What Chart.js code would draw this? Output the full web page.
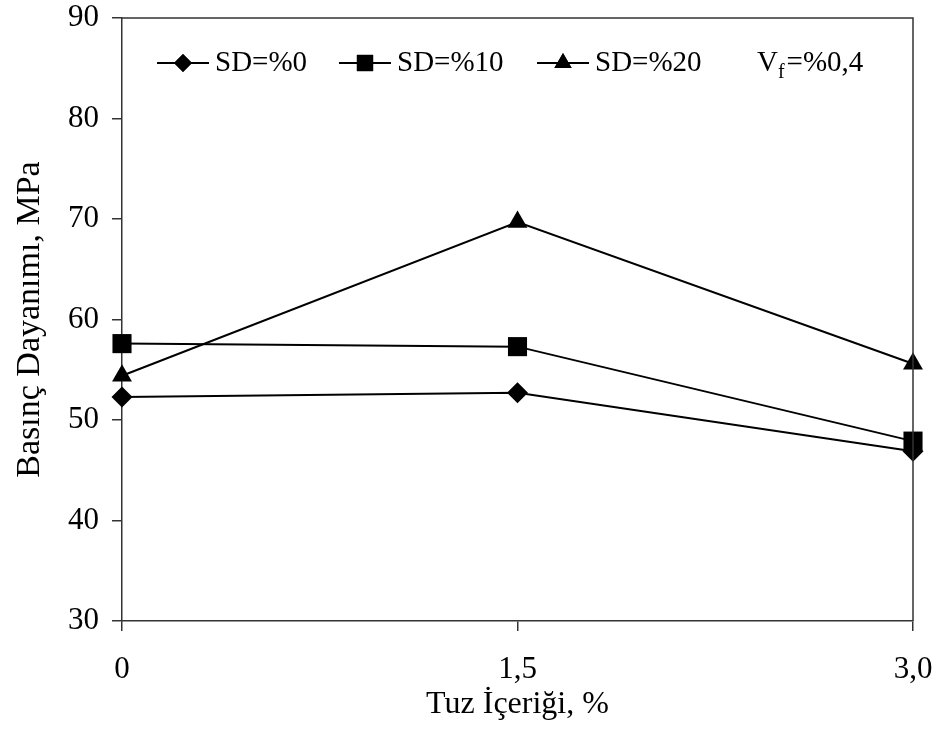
<!DOCTYPE html>
<html>
<head>
<meta charset="utf-8">
<script src="https://cdn.jsdelivr.net/npm/chart.js@4.4.0/dist/chart.umd.min.js"></script>
<style>
  html, body { margin: 0; padding: 0; background: #fff; }
  #wrap { width: 940px; height: 729px; }
</style>
</head>
<body>
<div id="wrap"><canvas id="c" width="940" height="729"></canvas></div>
<script>
// --- data ---
const xValues = [0, 1.5, 3.0];
const xTickLabels = ["0", "1,5", "3,0"];
const sd0 = [52.3, 52.7, 46.9];
const sd10 = [57.6, 57.3, 47.9];
const sd20 = [54.4, 69.7, 55.6];
const seriesNames = ["SD=%0", "SD=%10", "SD=%20"];
const seriesMarkers = ["rectRot", "rect", "triangle"];
const markerSizes = [10.5, 13.5, 11.5];

const FONT = "'Liberation Serif', 'Times New Roman', serif";

function toPoints(arr) {
  return arr.map((v, i) => ({ x: xValues[i], y: v }));
}

const allSeries = [sd0, sd10, sd20];
const datasets = allSeries.map((arr, i) => ({
  label: seriesNames[i],
  data: toPoints(arr),
  borderColor: "#000",
  backgroundColor: "#000",
  borderWidth: 2,
  pointStyle: seriesMarkers[i],
  pointRadius: markerSizes[i],
  pointBorderWidth: 0,
  pointBackgroundColor: "#000",
  tension: 0,
  clip: false
}));

// frame on top/right + legend drawn inside the plot
const frameAndLegend = {
  id: "frameAndLegend",
  afterDraw(chart) {
    const ctx = chart.ctx;
    const a = chart.chartArea;
    ctx.save();
    ctx.strokeStyle = "#333";
    ctx.lineWidth = 1.5;
    ctx.beginPath();
    ctx.moveTo(a.left, a.top);
    ctx.lineTo(a.right, a.top);
    ctx.lineTo(a.right, a.bottom);
    ctx.stroke();

    // legend
    const ly = 63;
    const starts = [157, 339, 537];
    const legSizes = [9, 11.5, 10];
    starts.forEach((sx, i) => {
      ctx.strokeStyle = "#000";
      ctx.lineWidth = 2;
      ctx.beginPath();
      ctx.moveTo(sx, ly);
      ctx.lineTo(sx + 52, ly);
      ctx.stroke();
      ctx.fillStyle = "#000";
      Chart.helpers.drawPoint(ctx, {
        pointStyle: seriesMarkers[i], radius: legSizes[i], rotation: 0, borderWidth: 0
      }, sx + 26, ly);
      ctx.fill();
      ctx.font = "29px " + FONT;
      ctx.textBaseline = "middle";
      ctx.textAlign = "left";
      ctx.fillText(seriesNames[i], sx + 58, ly);
    });
    // V_f = %0,4
    ctx.font = "29px " + FONT;
    ctx.fillText("V", 757, ly);
    const vw = ctx.measureText("V").width;
    ctx.font = "20px " + FONT;
    ctx.fillText("f", 757 + vw, ly + 10);
    const fw = ctx.measureText("f").width;
    ctx.font = "29px " + FONT;
    ctx.fillText("=%0,4", 757 + vw + fw + 2, ly);
    ctx.restore();
  }
};

new Chart(document.getElementById("c"), {
  type: "line",
  data: { datasets },
  plugins: [frameAndLegend],
  options: {
    responsive: false,
    animation: false,
    layout: { padding: { top: 18, right: 27, left: 0, bottom: 0 } },
    plugins: {
      legend: { display: false },
      tooltip: { enabled: false }
    },
    scales: {
      x: {
        type: "linear",
        min: 0,
        max: 3,
        afterBuildTicks: (scale) => { scale.ticks = xValues.map(v => ({ value: v })); },
        afterFit: (scale) => {
          scale.height = 108;
          scale.paddingLeft = 0;
          scale.paddingRight = 0;
        },
        ticks: {
          color: "#000",
          font: { family: FONT, size: 31 },
          padding: 20,
          maxRotation: 0,
          autoSkip: false,
          callback: (val, i) => xTickLabels[i]
        },
        grid: { display: true, drawOnChartArea: false, drawTicks: true, tickLength: 10, color: "#333", lineWidth: 1.5 },
        border: { display: true, color: "#333", width: 1.5 },
        title: {
          display: true,
          text: "Tuz İçeriği, %",
          color: "#000",
          font: { family: FONT, size: 32 },
          padding: { top: 0, bottom: 5 }
        }
      },
      y: {
        min: 30,
        max: 90,
        afterFit: (scale) => {
          scale.width = 122;
          scale.paddingTop = 0;
          scale.paddingBottom = 0;
        },
        ticks: {
          stepSize: 10,
          color: "#000",
          font: { family: FONT, size: 31 },
          padding: 13
        },
        grid: { display: true, drawOnChartArea: false, drawTicks: true, tickLength: 10, color: "#333", lineWidth: 1.5 },
        border: { display: true, color: "#333", width: 1.5 },
        title: {
          display: true,
          text: "Basınç Dayanımı, MPa",
          color: "#000",
          font: { family: FONT, size: 34 },
          padding: { top: 10, bottom: 0 }
        }
      }
    }
  }
});
</script>
</body>
</html>
